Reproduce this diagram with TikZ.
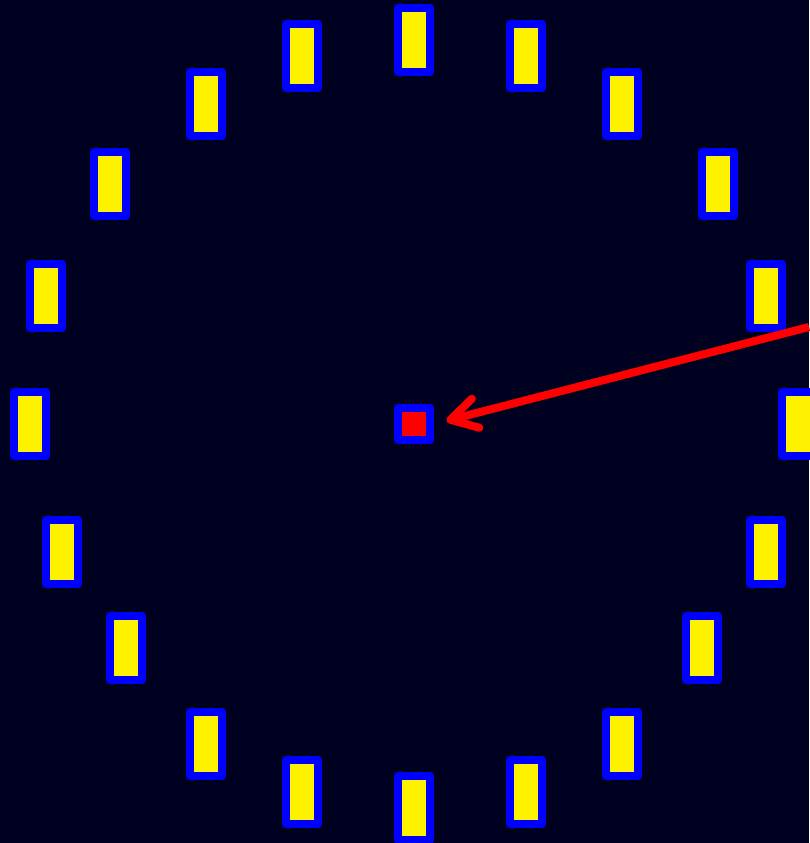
\documentclass[tikz,border=0pt]{standalone}
\usetikzlibrary{arrows.meta}
\definecolor{bgnavy}{RGB}{0,0,32}

\begin{document}
\begin{tikzpicture}[x=1pt,y=-1pt,
  hourbox/.style={draw=blue, fill=yellow, line width=8pt, line join=round,
    minimum width=32pt, minimum height=64pt, inner sep=0pt},
  hubbox/.style={draw=blue, fill=red, line width=8pt, line join=round,
    minimum size=32pt, inner sep=0pt},
  pointer/.style={draw=red, line width=8pt,
    -{Straight Barb[length=26pt,width=30pt,round]}},
]
\useasboundingbox (0,0) rectangle (809,843);
\fill[bgnavy] (0,0) rectangle (809,843);
% twenty boxes round the hub
\foreach \x/\y [count=\i] in {414/40, 526/56, 622/104, 718/184, 766/296,
    798/424, 766/552, 702/648, 622/744, 526/792, 414/808, 302/792, 206/744,
    126/648, 62/552, 30/424, 46/296, 110/184, 206/104, 302/56}
  \node[hourbox] (h\i) at (\x,\y) {};
\node[hubbox] (hub) at (414,424) {};
\coordinate (src) at (809,327);
\draw[pointer, shorten >=13pt] (src) -- (hub.east);
\end{tikzpicture}
\end{document}
